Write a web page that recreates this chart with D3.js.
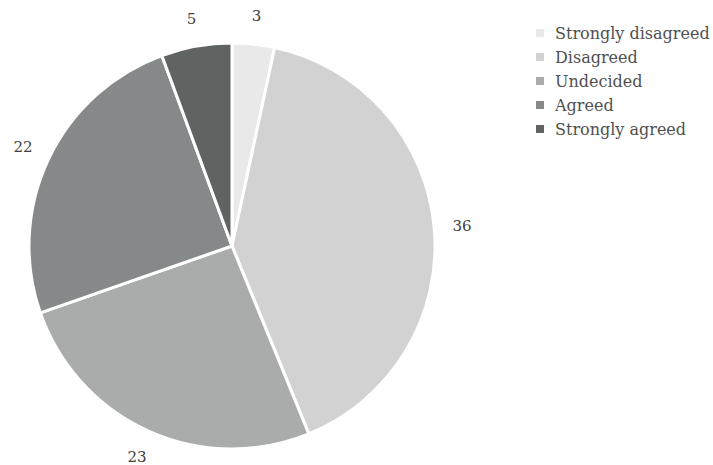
<!DOCTYPE html>
<html>
<head>
<meta charset="utf-8">
<script src="https://cdn.jsdelivr.net/npm/d3@7"></script>
<style>
  html, body { margin: 0; padding: 0; background: #fff; }
  svg { display: block; }
</style>
</head>
<body>
<svg id="chart" width="713" height="465"></svg>
<script>
const categories = ["Strongly disagreed", "Disagreed", "Undecided", "Agreed", "Strongly agreed"];
const values = [3, 36, 23, 22, 5];
const colors = ["#e9e9e9", "#d1d2d1", "#aaacac", "#868989", "#5f6463"];

const svg = d3.select("#chart");
const cx = 232, cy = 246, radius = 203, labelRadius = 231;
const fontFamily = "'DejaVu Serif', 'Liberation Serif', serif";

const data = categories.map((c, i) => ({ category: c, value: values[i], color: colors[i] }));

const pie = d3.pie().value(d => d.value).sort(null);
const arcs = pie(data);
const arc = d3.arc().innerRadius(0).outerRadius(radius);
const labelArc = d3.arc().innerRadius(labelRadius).outerRadius(labelRadius);

const g = svg.append("g").attr("transform", `translate(${cx},${cy})`);

g.selectAll("path.slice")
  .data(arcs)
  .join("path")
  .attr("class", "slice")
  .attr("d", arc)
  .attr("fill", d => d.data.color)
  .attr("stroke", "#fff")
  .attr("stroke-width", 3)
  .attr("stroke-linejoin", "round");

g.selectAll("text.value")
  .data(arcs)
  .join("text")
  .attr("class", "value")
  .attr("transform", d => `translate(${labelArc.centroid(d)})`)
  .attr("text-anchor", "middle")
  .attr("dominant-baseline", "central")
  .attr("font-family", fontFamily)
  .attr("font-size", 15)
  .attr("fill", "#404040")
  .text(d => d.data.value);

// Legend
const legend = svg.append("g").attr("transform", "translate(536,33)");
const rows = legend.selectAll("g.row")
  .data(data)
  .join("g")
  .attr("class", "row")
  .attr("transform", (d, i) => `translate(0,${i * 24})`);

rows.append("rect")
  .attr("x", 0).attr("y", -4)
  .attr("width", 8).attr("height", 8)
  .attr("fill", d => d.color);

rows.append("text")
  .attr("x", 19).attr("y", 0)
  .attr("dominant-baseline", "central")
  .attr("font-family", fontFamily)
  .attr("font-size", 16)
  .attr("fill", "#505050")
  .text(d => d.category);
</script>
</body>
</html>
